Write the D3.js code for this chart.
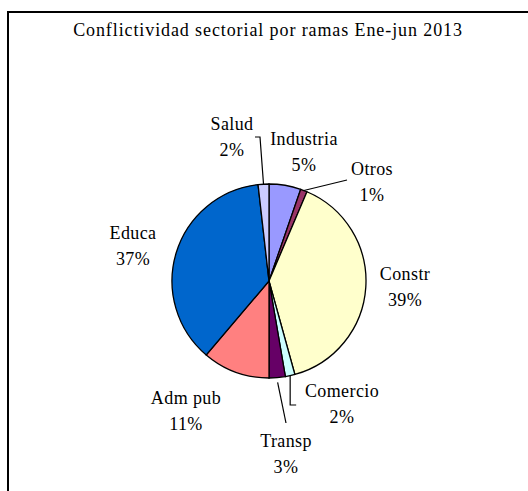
<!DOCTYPE html>
<html>
<head>
<meta charset="utf-8">
<script src="https://cdn.jsdelivr.net/npm/d3@7"></script>
<style>
  body { margin: 0; background: #fff; }
</style>
</head>
<body>
<svg id="pie" width="528" height="491"></svg>
<script>
const categories = ["Industria", "Otros", "Constr", "Comercio", "Transp", "Adm pub", "Educa", "Salud"];
const values = [5.3, 1.1, 39.3, 1.6, 2.7, 11.2, 37.0, 1.8];
const colors = ["#9999FF", "#993366", "#FFFFCC", "#CCFFFF", "#660066", "#FF8080", "#0066CC", "#CCCCFF"];
// label centres (name line), hand placed like the Excel chart
const labelPos = [[304, 139], [372, 169], [405, 274], [342, 391], [286, 441], [186, 398], [133, 233], [232, 124]];

const FONT = "'Times New Roman', 'Liberation Serif', 'DejaVu Serif', serif";

function Draw_pie(){
    const svg = d3.select("#pie");
    const cx = 269, cy = 281, r = 97;

    // chart frame
    svg.append("rect")
        .attr("x", 8).attr("y", 12)
        .attr("width", 530).attr("height", 500)
        .attr("fill", "none")
        .attr("stroke", "#000")
        .attr("stroke-width", 2);

    svg.append("text")
        .attr("x", 268).attr("y", 36)
        .attr("text-anchor", "middle")
        .attr("font-family", FONT)
        .attr("font-size", 18)
        .attr("letter-spacing", 0.9)
        .text("Conflictividad sectorial por ramas Ene-jun 2013");

    const total = d3.sum(values);
    const data = categories.map((c, i) => ({ name: c, value: values[i], color: colors[i], pos: labelPos[i] }));

    const pie = d3.pie().value(d => d.value).sort(null);
    const arc = d3.arc().innerRadius(0).outerRadius(r);
    const arcs = pie(data);

    const g = svg.append("g").attr("transform", `translate(${cx},${cy})`);
    g.selectAll("path")
        .data(arcs)
        .enter().append("path")
        .attr("d", arc)
        .attr("fill", d => d.data.color)
        .attr("stroke", "#000")
        .attr("stroke-width", 1.3);

    // leader lines: from slice edge to label
    const edge = (d, k) => {
        const a = (d.startAngle + d.endAngle) / 2;
        return [cx + Math.sin(a) * r * k, cy - Math.cos(a) * r * k];
    };
    const leaders = {
        "Salud": d => { const p = edge(d, 1.0); return [p, [260, 137], [255, 137]]; },
        "Otros": d => { const p = edge(d, 1.0); return [p, [347, 180]]; },
        "Comercio": d => { const p = edge(d, 1.0); return [p, [p[0], 405], [p[0] + 6, 405]]; },
        "Transp": d => { const p = edge(d, 1.05); return [p, [286, 423]]; }
    };
    arcs.forEach(d => {
        if (leaders[d.data.name]) {
            svg.append("path")
                .attr("d", d3.line()(leaders[d.data.name](d)))
                .attr("fill", "none")
                .attr("stroke", "#000")
                .attr("stroke-width", 1.2);
        }
    });

    const lab = svg.selectAll("g.lab")
        .data(arcs)
        .enter().append("g")
        .attr("class", "lab")
        .attr("transform", d => `translate(${d.data.pos[0]},${d.data.pos[1]})`);
    lab.append("text")
        .attr("text-anchor", "middle")
        .attr("dy", "0.35em")
        .attr("font-family", FONT)
        .attr("font-size", 18)
        .attr("letter-spacing", 0.4)
        .text(d => d.data.name);
    lab.append("text")
        .attr("text-anchor", "middle")
        .attr("y", 26)
        .attr("dy", "0.35em")
        .attr("font-family", FONT)
        .attr("font-size", 18)
        .attr("letter-spacing", 0.4)
        .text(d => Math.round(d.data.value / total * 100) + "%");
}
Draw_pie();
</script>
</body>
</html>
